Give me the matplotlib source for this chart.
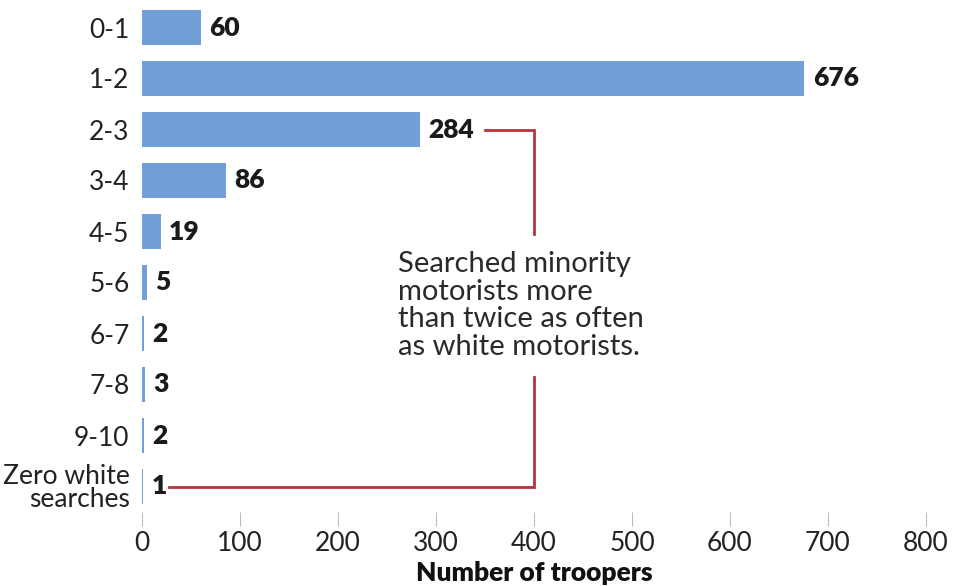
import matplotlib.pyplot as plt

plt.rcParams['font.family'] = ['Lato', 'DejaVu Sans']

categories = ['0-1', '1-2', '2-3', '3-4', '4-5', '5-6', '6-7', '7-8', '9-10',
              'Zero white\nsearches']
troopers = [60, 676, 284, 86, 19, 5, 2, 3, 2, 1]
xticks = [0, 100, 200, 300, 400, 500, 600, 700, 800]

bar_color = '#729fd6'
red = '#b8323c'

fig = plt.figure(figsize=(9.54, 5.86), dpi=100)
ax = fig.add_axes([142 / 954, 1 - 512 / 586, 784 / 954, 510 / 586])

y = range(len(categories))
bars = ax.barh(y, troopers, height=0.7, color=bar_color)
ax.bar_label(bars, labels=[str(v) for v in troopers], padding=6,
             fontsize=19, fontweight='heavy', color='#1a1a1a')

ax.set_xlim(0, 800)
ax.set_ylim(9.5, -0.5)
ax.set_yticks(list(y))
ax.set_yticklabels(categories, fontsize=19, color='#222222', linespacing=0.92)
ax.tick_params(axis='y', length=0, pad=9)
ax.set_xticks(xticks)
ax.set_xticklabels([str(t) for t in xticks], fontsize=19, color='#222222')
ax.tick_params(axis='x', length=10, width=0.8, color='#bbbbbb', pad=4)
ax.set_xlabel('Number of troopers', fontsize=19, fontweight='heavy',
              color='#111111', labelpad=3)
for s in ax.spines.values():
    s.set_visible(False)

# bracket linking the 2-3 bar and the zero-white row
ax.plot([350, 400, 400], [2, 2, 4.05], color=red, lw=2, solid_joinstyle='miter')
ax.plot([400, 400, 28], [6.85, 9, 9], color=red, lw=2, solid_joinstyle='miter')
ax.text(261, 5.45, 'Searched minority\nmotorists more\nthan twice as often\nas white motorists.',
        fontsize=21, color='#2a2a2a', ha='left', va='center', linespacing=1.08)

fig.savefig('out.png', dpi=100)
